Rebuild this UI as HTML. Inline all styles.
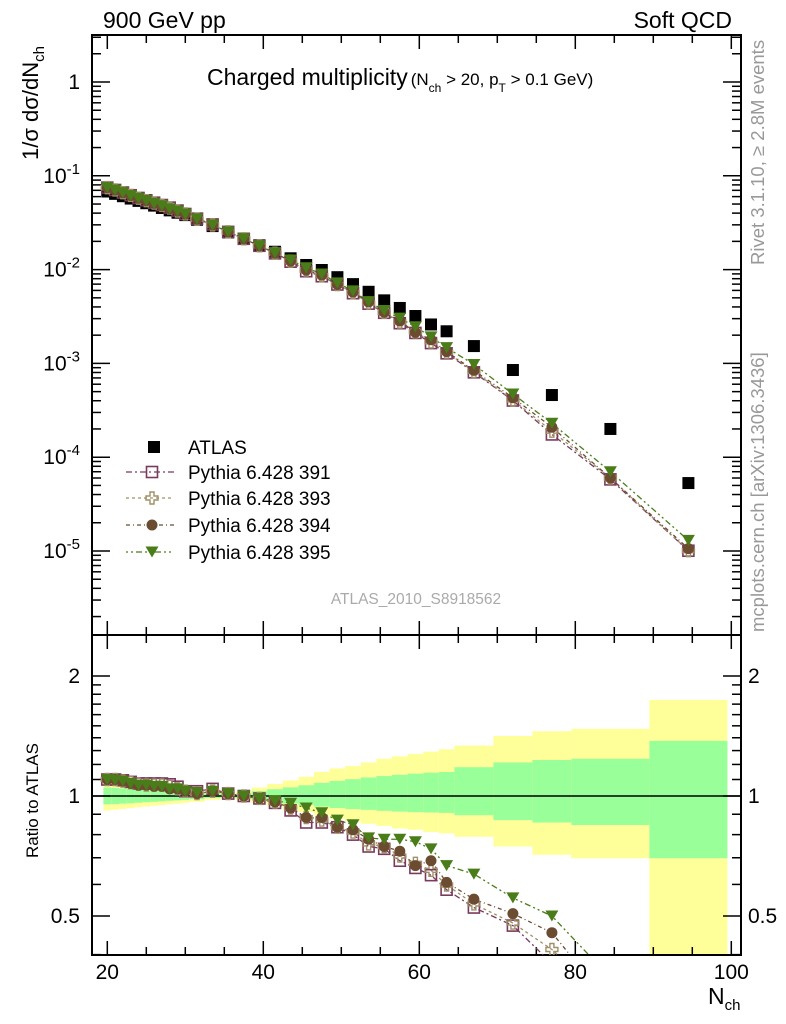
<!DOCTYPE html>
<html><head><meta charset="utf-8">
<style>
html,body{margin:0;padding:0;background:#fff;width:786px;height:1024px;overflow:hidden;}
svg{display:block;font-family:"Liberation Sans",sans-serif;overflow:hidden;}
</style></head>
<body>
<svg id="chart" xmlns="http://www.w3.org/2000/svg" width="786" height="1024" viewBox="0 0 786 1024">
<text x="103" y="28" font-size="23">900 GeV pp</text>
<text x="732" y="28" font-size="23" text-anchor="end">Soft QCD</text>
<text x="207" y="85" font-size="23">Charged multiplicity<tspan font-size="17" dx="3">(N</tspan><tspan font-size="12" dy="7">ch</tspan><tspan font-size="17" dy="-7"> &gt; 20, p</tspan><tspan font-size="12" dy="7">T</tspan><tspan font-size="17" dy="-7"> &gt; 0.1 GeV)</tspan></text>
<text transform="translate(38,160) rotate(-90)" font-size="22">1/σ dσ/dN<tspan font-size="15" dy="6">ch</tspan></text>
<text transform="translate(38,858) rotate(-90)" font-size="17">Ratio to ATLAS</text>
<text x="708" y="1004" font-size="23">N<tspan font-size="15" dy="6">ch</tspan></text>
<text transform="translate(764,265) rotate(-90)" font-size="18.5" fill="#999">Rivet 3.1.10, ≥ 2.8M events</text>
<text transform="translate(764,632) rotate(-90)" font-size="18.5" fill="#999">mcplots.cern.ch [arXiv:1306.3436]</text>
<text x="416" y="604" font-size="15.5" fill="#aaa" text-anchor="middle">ATLAS_2010_S8918562</text>
<g id="bands"></g><g id="axes"></g><g id="series"></g><g id="legend"></g>
</svg>
<script>
const centers=[20,21,22,23,24,25,26,27,28,29,30,31.5,33.5,35.5,37.5,39.5,41.5,43.5,45.5,47.5,49.5,51.5,53.5,55.5,57.5,59.5,61.5,63.5,67,72,77,84.5,94.5];
const binLo=[19.5,20.5,21.5,22.5,23.5,24.5,25.5,26.5,27.5,28.5,29.5,30.5,32.5,34.5,36.5,38.5,40.5,42.5,44.5,46.5,48.5,50.5,52.5,54.5,56.5,58.5,60.5,62.5,64.5,69.5,74.5,79.5,89.5];
const binHi=[20.5,21.5,22.5,23.5,24.5,25.5,26.5,27.5,28.5,29.5,30.5,32.5,34.5,36.5,38.5,40.5,42.5,44.5,46.5,48.5,50.5,52.5,54.5,56.5,58.5,60.5,62.5,64.5,69.5,74.5,79.5,89.5,99.5];
const atlas=[0.068,0.0642,0.0606,0.0572,0.054,0.051,0.0481,0.0454,0.0428,0.0404,0.0381,0.034,0.0291,0.0249,0.0213,0.0182,0.0155,0.0132,0.0112,0.0099,0.0083,0.0070,0.0058,0.0047,0.0039,0.0032,0.0026,0.0022,0.00153,0.00085,0.00046,0.0002,0.000053];
const r391=[1.10,1.10,1.095,1.085,1.075,1.075,1.075,1.075,1.07,1.055,1.028,1.028,1.042,1.014,1.0,0.986,0.961,0.92,0.858,0.858,0.835,0.80,0.747,0.737,0.688,0.66,0.633,0.582,0.525,0.473,0.38,0.29,0.19];
const r393=[1.10,1.10,1.09,1.08,1.07,1.065,1.065,1.065,1.057,1.042,1.028,1.014,1.028,1.014,1.0,0.986,0.966,0.933,0.883,0.87,0.835,0.812,0.758,0.747,0.707,0.678,0.651,0.598,0.536,0.48,0.412,0.30,0.19];
const r394=[1.10,1.10,1.09,1.075,1.065,1.065,1.057,1.057,1.042,1.042,1.028,1.014,1.028,1.014,1.0,0.986,0.966,0.933,0.883,0.883,0.835,0.823,0.779,0.747,0.727,0.669,0.688,0.607,0.551,0.507,0.454,0.30,0.20];
const r395=[1.10,1.095,1.09,1.075,1.065,1.065,1.057,1.057,1.042,1.042,1.028,1.021,1.028,1.014,1.0,0.986,0.973,0.959,0.933,0.908,0.87,0.847,0.785,0.779,0.779,0.768,0.737,0.669,0.637,0.555,0.50,0.35,0.245];
const yUp=[0.087,0.082,0.078,0.072,0.067,0.063,0.059,0.054,0.05,0.045,0.041,0.034,0.022,0.017,0.028,0.05,0.072,0.094,0.117,0.149,0.173,0.189,0.214,0.24,0.257,0.275,0.292,0.31,0.338,0.414,0.454,0.474,0.742];
const yDn=[0.08,0.076,0.072,0.067,0.063,0.059,0.055,0.051,0.047,0.043,0.039,0.033,0.022,0.017,0.025,0.041,0.057,0.073,0.089,0.105,0.124,0.136,0.148,0.159,0.171,0.177,0.188,0.194,0.21,0.253,0.288,0.302,0.67];
const gUp=[0.05,0.048,0.045,0.043,0.04,0.037,0.034,0.031,0.028,0.025,0.022,0.018,0.013,0.01,0.015,0.028,0.04,0.051,0.064,0.079,0.091,0.102,0.113,0.122,0.13,0.138,0.144,0.149,0.181,0.214,0.231,0.24,0.375];
const gDn=[0.047,0.046,0.043,0.041,0.038,0.035,0.033,0.03,0.027,0.025,0.022,0.018,0.012,0.01,0.014,0.025,0.034,0.043,0.051,0.06,0.067,0.073,0.077,0.082,0.086,0.089,0.091,0.093,0.105,0.13,0.142,0.154,0.302];
const seriesNames=["Pythia 6.428 391","Pythia 6.428 393","Pythia 6.428 394","Pythia 6.428 395"];
const xTicks=[20,40,60,80,100];
const ratioTicks=[0.5,1,2];
const logTicks=[0,-1,-2,-3,-4,-5];

const NS="http://www.w3.org/2000/svg";
const L=92,R=741,T1=35,B1=635,B2=955;
const X=v=>107.3+(v-20)*7.8;
const Y=v=>82-93.8*Math.log10(v);
const YR=r=>796-398.6*Math.log10(r);
function mk(tag,attrs,parent){const e=document.createElementNS(NS,tag);for(const k in attrs)e.setAttribute(k,attrs[k]);document.getElementById(parent).appendChild(e);return e;}

for(let i=0;i<centers.length;i++){
  const x1=Math.max(X(binLo[i]),L+1),x2=X(binHi[i]);
  const yt=YR(1+yUp[i]),ybt=Math.min(YR(1-yDn[i]),B2-1);
  const yb=mk('rect',{x:x1,y:yt,width:x2-x1,height:ybt-yt,fill:'#ffff99'},'bands');
  
  
  const gt=YR(1+gUp[i]),gbt=Math.min(YR(1-gDn[i]),B2-1);
  const gb=mk('rect',{x:x1,y:gt,width:x2-x1,height:gbt-gt,fill:'#99ff99'},'bands');
  
  
}
const f1=mk('rect',{x:L,y:T1,width:R-L,height:B1-T1,fill:'none',stroke:'#000','stroke-width':2},'axes');


const f2=mk('rect',{x:L,y:B1,width:R-L,height:B2-B1,fill:'none',stroke:'#000','stroke-width':2},'axes');


const one=mk('line',{x1:L,x2:R,y1:YR(1),y2:YR(1),stroke:'#000','stroke-width':1.5},'axes');


for(let v=20;v<=100;v+=5){
  const maj=v%20===0, len=maj?14:8;
  for(const [yy,dir] of [[B2,-1],[B1,-1],[B1,1],[T1,1]]){
    const t=mk('line',{x1:X(v),x2:X(v),y1:yy,y2:yy+dir*len,stroke:'#000','stroke-width':1.5},'axes');
    
    
  }
}
xTicks.forEach(v=>{
  const t=mk('text',{x:X(v),y:979,'font-size':21,'text-anchor':'middle'},'axes');
  t.textContent=v;
  
  
});
for(let d=-6;d<=0;d++){
  for(let m=1;m<=9;m++){
    const y=Y(m*Math.pow(10,d));
    if(y<T1||y>B1)continue;
    const len=m===1?18:9;
    for(const [xx,dir] of [[L,1],[R,-1]]){
      const t=mk('line',{x1:xx,x2:xx+dir*len,y1:y,y2:y,stroke:'#000','stroke-width':1.5},'axes');
      
      
    }
  }
}
logTicks.forEach(e=>{
  const t=mk('text',{x:80,y:Y(Math.pow(10,e))+7,'font-size':21,'text-anchor':'end'},'axes');
  if(e===0)t.textContent='1';
  else{t.innerHTML='10<tspan font-size="15" dy="-9">'+e+'</tspan>';}
  
  
});
const rminor=[0.4,0.5,0.6,0.7,0.8,0.9,1,1.1,1.2,1.3,1.4,1.5,1.6,1.7,1.8,1.9,2];
rminor.forEach(r=>{
  const y=YR(r); if(y<B1||y>B2)return;
  const maj=(r===0.5||r===1||r===2);
  for(const [xx,dir] of [[L,1],[R,-1]]){
    const t=mk('line',{x1:xx,x2:xx+dir*(maj?18:9),y1:y,y2:y,stroke:'#000','stroke-width':1.5},'axes');
    
    
  }
});
ratioTicks.forEach(r=>{
  const t=mk('text',{x:80,y:YR(r)+7,'font-size':21,'text-anchor':'end'},'axes');
  t.textContent=r;
  
  
  const t2=mk('text',{x:748,y:YR(r)+7,'font-size':21},'axes');
  t2.textContent=r;
  
  
});
const cols=['#7a3a5c','#a09068','#6b4c30','#4a7d1a'];
const dashes=['6,3,2,3','3,3','4,3,1,3','2,3,2,3,6,3'];
const ratios=[r391,r393,r394,r395];
function marker(k,x,y,parent){
  const c=cols[k];let e;
  if(k===0)e=mk('rect',{x:x-5.5,y:y-5.5,width:11,height:11,fill:'none',stroke:c,'stroke-width':1.6},parent);
  else if(k===1)e=mk('path',{d:`M${x-2},${y-6}h4v4h4v4h-4v4h-4v-4h-4v-4h4z`,fill:'none',stroke:c,'stroke-width':1.4},parent);
  else if(k===2)e=mk('circle',{cx:x,cy:y,r:5.5,fill:c},parent);
  else e=mk('path',{d:`M${x-6.5},${y-5.5}h13l-6.5,11z`,fill:c},parent);
  return e;
}
mk('clipPath',{id:'c1'},'series').innerHTML=`<rect x="${L}" y="${T1}" width="${R-L}" height="${B1-T1}"/>`;
mk('clipPath',{id:'c2'},'series').innerHTML=`<rect x="${L}" y="${B1}" width="${R-L}" height="${B2-B1}"/>`;
const g1=mk('g',{'clip-path':'url(#c1)',id:'top'},'series');
const g2=mk('g',{'clip-path':'url(#c2)',id:'bot'},'series');
ratios.forEach((rr,k)=>{
  const pt=centers.map((c,i)=>X(c)+','+Y(atlas[i]*rr[i])).join(' ');
  const pl=mk('polyline',{points:pt,fill:'none',stroke:cols[k],'stroke-width':1.3,'stroke-dasharray':dashes[k]},'top');
  
  
  const pts=[];
  for(let i=0;i<centers.length;i++){
    const x=X(centers[i]),y=YR(rr[i]);
    if(y<=B2){pts.push(x+','+y);continue;}
    if(i>0){
      const px=X(centers[i-1]),py=YR(rr[i-1]);
      if(py<=B2){const f=(B2-py)/(y-py);pts.push((px+f*(x-px))+','+B2);}
    }
    break;
  }
  const pl2=mk('polyline',{points:pts.join(' '),fill:'none',stroke:cols[k],'stroke-width':1.3,'stroke-dasharray':dashes[k]},'bot');
  
  
});
centers.forEach((c,i)=>{
  const s=mk('rect',{x:X(c)-6,y:Y(atlas[i])-6,width:12,height:12,fill:'#000'},'top');
  
  
});
ratios.forEach((rr,k)=>{
  centers.forEach((c,i)=>{
    const m=marker(k,X(c),Y(atlas[i]*rr[i]),'top');
    
    
    const yr=YR(rr[i]);
    if(yr>B2+6)return;
    const m2=marker(k,X(c),yr,'bot');
    
    
  });
});
const ly=[447,472,498,525,552];
const la=mk('rect',{x:148,y:ly[0]-6,width:12,height:12,fill:'#000'},'legend');


const lt=mk('text',{x:188,y:ly[0]+7,'font-size':19},'legend');
lt.textContent='ATLAS';


seriesNames.forEach((n,k)=>{
  const y=ly[k+1];
  const ln=mk('line',{x1:126,x2:174,y1:y,y2:y,stroke:cols[k],'stroke-width':1.3,'stroke-dasharray':dashes[k]},'legend');
  
  
  const m=marker(k,152,y,'legend');
  
  
  const t=mk('text',{x:188,y:y+7,'font-size':19},'legend');
  t.textContent=n;
  
  
});
</script>
</body></html>
